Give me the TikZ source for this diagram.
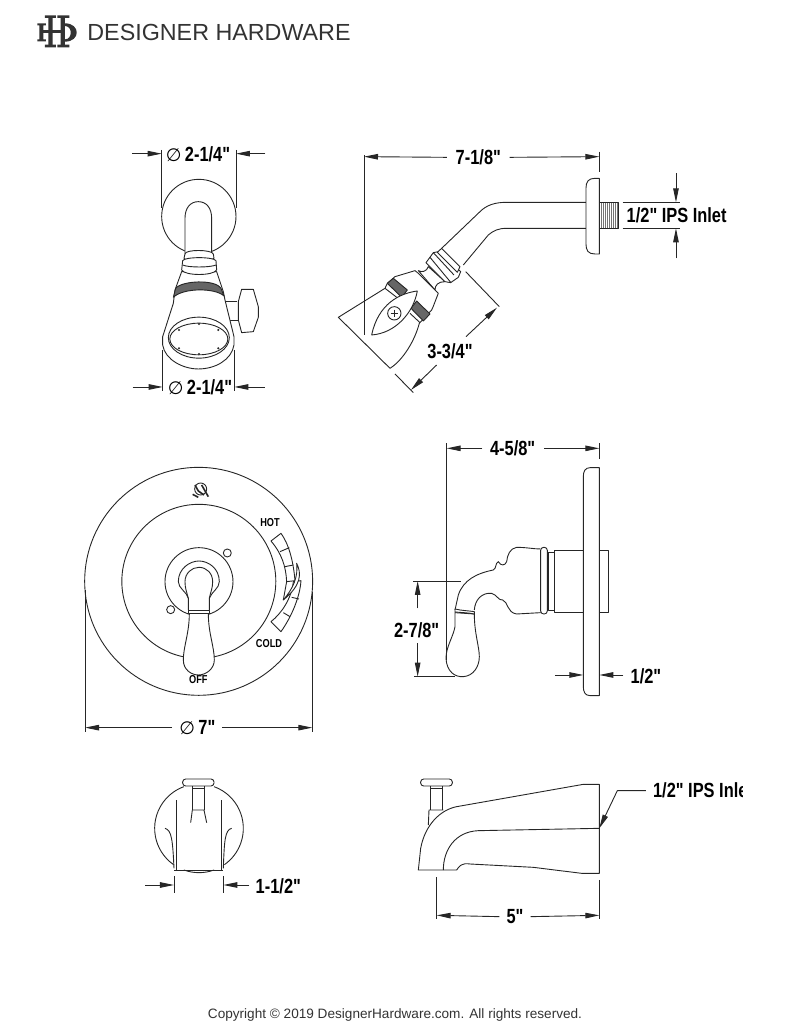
\documentclass[tikz,border=0pt]{standalone}
\usepackage{fontspec}
\usetikzlibrary{arrows.meta}
\setmainfont{Liberation Sans}
\newfontfamily\dimfont[FakeStretch=0.8]{Liberation Sans}
\newfontfamily\symfont{DejaVu Sans}
\tikzset{
  >={Triangle[length=14pt,width=5.5pt]},
  zoomed/.style 2 args={shift={(#1,#2)},x=.3333pt,y=-.3333pt},
  dimlabel/.style={font=\dimfont\bfseries\fontsize{20.5}{22}\selectfont, inner sep=0pt, text=black},
  tinylabel/.style={font=\dimfont\bfseries\fontsize{11.5}{14}\selectfont, inner sep=0pt, text=black},
  knurl/.style={draw, fill=black!60},
}
\newcommand{\dia}{{\symfont\fontseries{m}\selectfont\fontsize{18}{20}\selectfont ∅}}

\begin{document}
\begin{tikzpicture}[x=1pt,y=-1pt,line width=.9pt,color=black!85,line join=round]
  \useasboundingbox (0,0) rectangle (791,1024);

  % header
  \begin{scope}[zoomed={30}{10},color=black!80]
    \fill (55,20) rectangle (68,108) (92,20) rectangle (105,108);
    \fill (45,16) rectangle (78,24) (82,16) rectangle (118,24);
    \fill (45,104) rectangle (78,112) (82,104) rectangle (118,112);
    \fill (30,60) rectangle (105,68);
    \fill (28,42) rectangle (40,90) (22,40) rectangle (48,46) (22,88) rectangle (48,94);
    \fill (105,40) .. controls (152,40) and (152,95) .. (105,95) -- (105,88) .. controls (128,88) and (128,48) .. (105,48) -- cycle;
  \end{scope}
  \node[font=\fontsize{23.3}{25}\selectfont, inner sep=0pt, text=black!80] (title) at (219,32) {DESIGNER HARDWARE};

  % shower head, front
  \begin{scope}[zoomed={110}{130}]
    \draw (266.5,259.5) circle[radius=111.5];
    \draw[fill=white] (225,372) -- (225,265) .. controls (225,235) and (240,215) .. (265,215) .. controls (290,215) and (305,235) .. (305,265) -- (305,372);
    \draw (340,515) -- (382,515) (345,570) -- (385,570);
    \draw[fill=white] (395,478) -- (430,478) -- (445,530) -- (445,562) -- (430,605) -- (395,608) -- (385,570) -- (385,515) -- cycle;
    \draw[fill=white] (215,425) -- (195,480) -- (190,520) -- (158,620) -- (158,645) .. controls (165,690) and (220,717) .. (265,717) .. controls (315,717) and (365,690) .. (372,645) -- (372,620) -- (345,510) -- (340,485) -- (320,425) -- cycle;
    \draw[fill=white] (225,372) .. controls (225,358) and (305,358) .. (310,372) -- (312,385) .. controls (300,397) and (228,397) .. (222,385) -- cycle;
    \draw[fill=white] (218,392) .. controls (225,380) and (310,380) .. (318,392) -- (320,420) .. controls (310,438) and (225,438) .. (215,420) -- cycle;
    \draw (218,405) .. controls (235,413) and (300,413) .. (318,405);
    \draw[knurl] (197,475) .. controls (215,452) and (315,447) .. (333,475) -- (342,498) .. controls (315,473) and (220,473) .. (190,502) -- cycle;
    \draw (266.5,623) ellipse[x radius=91.5, y radius=61.5];
    \draw (266.5,627) ellipse[x radius=87, y radius=47.5];
    \foreach \spray in {(267,582),(325,600),(207,600),(207,655),(267,672),(325,655)}
      \fill \spray circle[radius=3.5];
    \coordinate (ftl) at (66,71); \coordinate (ftp) at (155,71);
    \coordinate (ftr) at (466,71); \coordinate (ftq) at (378,71);
    \coordinate (fbl) at (68,771); \coordinate (fbp) at (158,771);
    \coordinate (fbr) at (465,771); \coordinate (fbq) at (373,771);
    \draw (155,60) -- (155,235) (378,60) -- (378,235);
    \draw (158,660) -- (158,783) (373,660) -- (373,783);
    \draw[->] (ftl) -- (ftp);
    \draw[->] (ftr) -- (ftq);
    \draw[->] (fbl) -- (fbp);
    \draw[->] (fbr) -- (fbq);
    \node[dimlabel] (frontTop) at (264,72) {\dia\,2-1/4"};
    \node[dimlabel] (frontBot) at (270,773) {\dia\,2-1/4"};
  \end{scope}

  % shower arm, side
  \begin{scope}[zoomed={320}{140}]
    \draw[fill=white] (838,115) -- (825,115) .. controls (805,115) and (798,125) .. (798,145) -- (798,312) .. controls (798,332) and (805,342) .. (825,342) -- (838,342) -- cycle;
    \foreach \thr in {844,850,...,892}
      \draw[black!55,line width=1.2pt] (\thr,188) -- (\thr,265);
    \draw (838,187) -- (895,187) -- (895,265) -- (838,265);
    \draw (798,187) -- (560,187) .. controls (525,187) and (500,195) .. (480,215) -- (365,325);
    \draw (798,265) -- (560,265) .. controls (535,265) and (520,272) .. (505,285) -- (430,375);
    % neck, nut, collar
    \draw[fill=white] (295,392) .. controls (305,398) and (320,395) .. (325,380) -- (375,425) .. controls (355,425) and (345,435) .. (345,450) -- cycle;
    \draw[fill=white] (318,368) -- (340,338) -- (355,335) -- (422,395) -- (415,412) -- (392,428) -- (375,425) -- cycle;
    \draw (330,352) -- (393,428) (340,338) -- (402,405);
    \draw[fill=white] (365,325) -- (420,380) -- (412,397) -- (352,337) -- cycle;
    % head
    \draw[fill=white] (285,392) -- (225,410) -- (202,430) -- (195,445) -- (55,532) -- (210,685) .. controls (250,660) and (285,600) .. (298,550) -- (335,510) .. controls (340,500) and (345,485) .. (355,460) -- (295,400) -- cycle;
    \draw (195,445) -- (238,478) (270,520) -- (300,548);
    \draw[knurl] (202,430) -- (220,415) -- (262,450) -- (245,472) -- cycle;
    \draw[knurl] (273,505) -- (290,483) -- (330,522) -- (310,543) -- cycle;
    \draw[fill=white] (155,585) .. controls (175,490) and (240,460) .. (292,453) .. controls (280,520) and (225,580) .. (155,585) -- cycle;
    \draw (223,520) circle[radius=20];
    \draw[line width=.5pt] (212,520) -- (234,520) (223,509) -- (223,531);
    % dimensions
    \draw (132,45) -- (132,585) (838,35) -- (838,95);
    \node[dimlabel] (armLen) at (475,52) {7-1/8"};
    \coordinate (ale) at (132,50); \coordinate (are) at (838,50);
    \draw[->] (armLen.west) ++(-25,0) -- (ale);
    \draw[->] (armLen.east) ++(25,0) -- (are);
    \draw (437,395) -- (538,500) (225,702) -- (280,758);
    \node[dimlabel] (headLen) at (390,635) {3-3/4"};
    \coordinate (hup) at (531,503); \coordinate (hdn) at (273,750);
    \coordinate (hus) at (438,590); \coordinate (hds) at (350,675);
    \draw[->] (hus) -- (hup);
    \draw[->] (hds) -- (hdn);
    \draw (908,187) -- (1080,187) (908,265) -- (1080,265);
    \coordinate (ist) at (1068,100); \coordinate (isb) at (1068,355);
    \coordinate (ipt) at (1068,187); \coordinate (ipb) at (1068,265);
    \draw[->] (ist) -- (ipt);
    \draw[->] (isb) -- (ipb);
    \node[dimlabel] (armInlet) at (1070,226) {1/2" IPS Inlet};
  \end{scope}

  % valve trim, front
  \begin{scope}[zoomed={70}{460}]
    \draw (386,364) circle[radius=342];
    \draw (386.5,364) circle[radius=231];
    \draw (387,365) circle[radius=102];
    \draw (472,279) circle[radius=12];
    \draw (302,449) circle[radius=12];
    \draw[fill=white] (355,450) -- (355,415) .. controls (350,395) and (325,385) .. (325,365) .. controls (325,325) and (360,303) .. (387,303) .. controls (415,303) and (448,325) .. (448,365) .. controls (448,385) and (425,395) .. (418,415) -- (418,450);
    \draw (355,415) .. controls (350,395) and (345,385) .. (345,365) .. controls (345,340) and (365,322) .. (387,322) .. controls (410,322) and (428,340) .. (428,365) .. controls (428,385) and (422,395) .. (418,415);
    \draw[fill=white] (358,460) .. controls (358,520) and (340,560) .. (340,600) .. controls (340,630) and (365,645) .. (385,645) .. controls (410,645) and (433,625) .. (433,600) .. controls (433,560) and (415,520) .. (415,460) -- cycle;
    \draw[fill=white] (355,450) -- (418,450) -- (418,460) -- (355,460) -- cycle;
    % temperature scale
    \begin{scope}[zoomed={540}{150}]
      \draw (63,93) -- (93,70) .. controls (115,100) and (130,150) .. (135,212) -- (110,215) .. controls (108,170) and (95,130) .. (63,93) -- cycle;
      \draw (90,125) -- (118,113) (105,170) -- (130,165);
      \draw[fill=white] (153,212) .. controls (150,260) and (125,320) .. (93,365) -- (63,335) .. controls (95,310) and (125,265) .. (130,215) -- cycle;
      \draw (125,262) -- (147,267) (100,308) -- (120,320);
      \draw[fill=white] (140,160) .. controls (155,190) and (155,225) .. (100,270) .. controls (130,235) and (145,200) .. (140,160) -- cycle;
      \draw (110,215) -- (100,270);
    \end{scope}
    % pressure mark
    \begin{scope}[zoomed={330}{45}]
      \draw (62,42) circle[radius=18];
      \draw[line width=1.6pt] (38,58) -- (55,67) (65,30) -- (85,65) (45,30) -- (55,48) (55,48) -- (72,60);
    \end{scope}
    \coordinate (dlp) at (45,803); \coordinate (drp) at (727,803);
    \draw (45,390) -- (45,815) (727,395) -- (727,815);
    \node[dimlabel] (plateDia) at (382,803) {\dia\,7"};
    \draw[->] (plateDia.west) ++(-20,0) -- (dlp);
    \draw[->] (plateDia.east) ++(20,0) -- (drp);
    \node[tinylabel] (hotLbl) at (600,187) {HOT};
    \node[tinylabel] (coldLbl) at (597,551) {COLD};
    \node[tinylabel] (offLbl) at (385,660) {OFF};
  \end{scope}

  % valve trim, side
  \begin{scope}[zoomed={380}{430}]
    \draw (658,360) -- (686,360) -- (686,547) -- (658,547);
    \draw (658,113) -- (630,113) .. controls (615,113) and (610,125) .. (610,140) -- (610,770) .. controls (610,785) and (615,797) .. (630,797) -- (658,797) -- cycle;
    \draw (522,360) rectangle (610,547);
    \draw (505,368) rectangle (522,540);
    \draw[rounded corners=3pt,fill=white] (482,352) rectangle (502,552);
    \draw (482,357) .. controls (460,357) and (440,352) .. (410,352) .. controls (390,355) and (382,375) .. (380,395) .. controls (375,408) and (362,408) .. (355,395) .. controls (345,400) and (350,415) .. (340,420) .. controls (290,430) and (250,450) .. (235,495) -- (225,540);
    \draw (283,540) .. controls (285,510) and (305,487) .. (335,490) .. controls (352,495) and (355,512) .. (368,510) .. controls (385,515) and (380,548) .. (410,552) -- (482,548);
    \draw[fill=white] (225,548) -- (225,590) .. controls (220,620) and (198,650) .. (198,685) .. controls (200,725) and (225,742) .. (250,740) .. controls (280,738) and (298,710) .. (298,680) .. controls (298,650) and (283,610) .. (283,552) -- cycle;
    \draw[fill=white] (225,537) .. controls (245,542) and (265,542) .. (283,545) -- (283,552) .. controls (265,548) and (245,548) .. (225,546) -- cycle;
    % dimensions
    \draw (200,40) -- (200,690) (658,40) -- (658,88);
    \node[dimlabel] (handleLen) at (398,55) {4-5/8"};
    \coordinate (hle) at (200,55); \coordinate (hre) at (658,55);
    \draw[->] (handleLen.west) ++(-22,0) -- (hle);
    \draw[->] (handleLen.east) ++(25,0) -- (hre);
    \draw (100,453) -- (243,453) (103,740) -- (225,740);
    \node[dimlabel] (handleDrop) at (110,602) {2-7/8"};
    \coordinate (dtp) at (113,453); \coordinate (dbp) at (113,740);
    \coordinate (dts) at (113,535); \coordinate (dbs) at (113,640);
    \draw[->] (dts) -- (dtp);
    \draw[->] (dbs) -- (dbp);
    \coordinate (tle) at (525,735); \coordinate (tlp) at (610,735);
    \coordinate (tre) at (730,735); \coordinate (trp) at (658,735);
    \draw[->] (tle) -- (tlp);
    \draw[->] (tre) -- (trp);
    \node[dimlabel] (plateThick) at (798,738) {1/2"};
  \end{scope}

  % tub spout, front
  \begin{scope}[zoomed={130}{760}]
    \draw (207,205) ++(-70:133) arc[start angle=-70, end angle=55, radius=133];
    \draw (207,205) ++(125:133) arc[start angle=125, end angle=250, radius=133];
    \draw (207,205) ++(70:133) arc[start angle=70, end angle=110, radius=133];
    \draw[fill=white,rounded corners=3pt] (158,57) rectangle (252,78);
    \draw (187,78) -- (187,150) (222,78) -- (222,150) (187,85) -- (222,85);
    \draw (182,188) -- (187,150) -- (222,150) -- (230,188);
    \draw (138,120) -- (138,330) (273,120) -- (273,330);
    \draw (132,330) -- (280,330);
    \draw (105,205) .. controls (125,210) and (128,240) .. (132,325);
    \draw (305,205) .. controls (285,210) and (283,240) .. (280,325);
    \draw (132,348) -- (132,400) (280,348) -- (280,400);
    \coordinate (sle) at (45,375); \coordinate (slp) at (132,375);
    \coordinate (sre) at (358,375); \coordinate (srp) at (280,375);
    \draw[->] (sle) -- (slp);
    \draw[->] (sre) -- (srp);
    \node[dimlabel] (spoutWidth) at (445,378) {1-1/2"};
  \end{scope}

  % tub spout, side
  \begin{scope}[zoomed={400}{760}]
    \draw[fill=white,rounded corners=3pt] (62,57) rectangle (157,78);
    \draw (92,78) -- (92,150) (127,78) -- (127,150) (92,85) -- (127,85);
    \draw (85,195) -- (87,150) -- (130,150);
    \draw (598,73) -- (550,73) -- (170,140) .. controls (120,150) and (75,195) .. (62,265) -- (55,330) -- (170,330) .. controls (178,318) and (185,308) .. (210,312) -- (400,322) -- (545,340) -- (598,340) -- cycle;
    \draw (130,330) .. controls (130,270) and (165,215) .. (235,212) -- (598,205);
    \draw (110,352) -- (110,478) (598,360) -- (598,478);
    \node[dimlabel] (spoutLen) at (345,470) {5"};
    \coordinate (sll) at (110,466); \coordinate (slr) at (598,466);
    \draw[->] (spoutLen.west) ++(-20,0) -- (sll);
    \draw[->] (spoutLen.east) ++(20,0) -- (slr);
    \coordinate (lea) at (738,92); \coordinate (leb) at (652,92); \coordinate (lec) at (598,205);
    \draw[->] (lea) -- (leb) -- (lec);
    \begin{scope}
      \clip (700,0) rectangle (1029,200);
      \node[dimlabel, anchor=west] (spoutInlet) at (758,92) {1/2" IPS Inlet};
    \end{scope}
  \end{scope}

  \node[font=\fontsize{13.6}{15}\selectfont, inner sep=0pt, text=black!80] (copy) at (395,1015) {Copyright © 2019 DesignerHardware.com. All rights reserved.};
\end{tikzpicture}
\end{document}
